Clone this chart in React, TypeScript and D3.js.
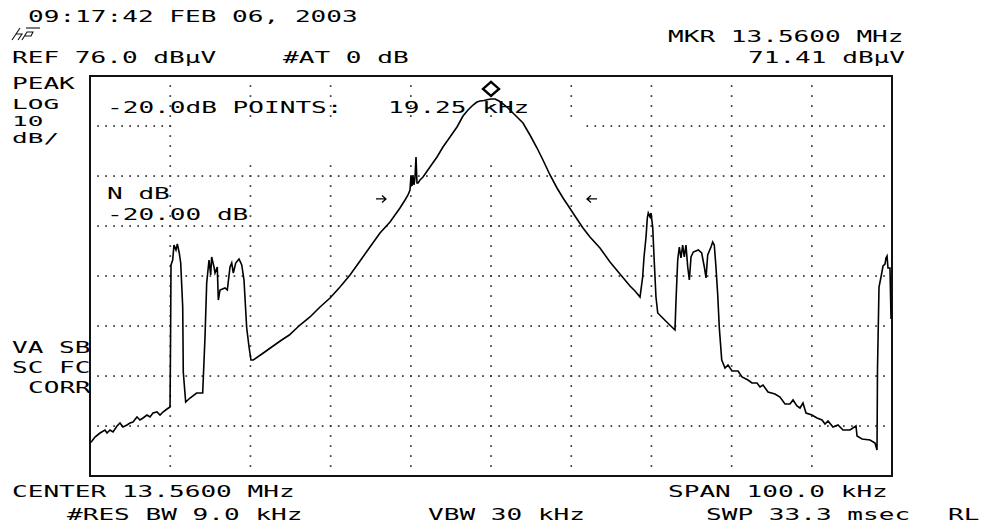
import React from "react";
import * as d3 from "d3";

// ---- instrument settings ----
const CENTER_MHZ = 13.56;
const SPAN_KHZ = 100;
const REF_DBUV = 76.0;
const DB_PER_DIV = 10;
const N_HDIV = 10;
const N_VDIV = 8;

const MARKER_KHZ = 50.0; // offset from start frequency
const MARKER_DBUV = 71.41;
const NDB = -20.0;
const NDB_WIDTH_KHZ = 19.25;
const NDB_ARROWS_KHZ = [36.28, 62.59];

// ---- trace: frequency offset from start (kHz) and level (dBuV) ----
const traceKHz = [
  0.0, 0.25, 0.62, 1.25, 1.87, 2.12, 2.49, 2.87, 3.37, 3.74, 4.11, 4.61, 4.99, 5.36, 5.86, 6.23, 6.61, 7.11, 7.48, 7.86, 8.35, 8.73, 9.1, 9.6, 9.98,
  10.04, 10.1, 10.31, 10.47, 10.72, 10.89, 11.13, 11.31, 11.56, 11.63, 11.93, 12.47, 13.3, 14.05, 14.34, 14.55, 14.84, 15.05, 15.17, 15.46, 15.59, 15.87, 16.0, 16.21, 16.83, 17.12, 17.46, 17.67, 17.87, 18.17, 18.58, 18.92, 19.2, 19.54, 19.83, 20.07, 20.36,
  21.61, 22.66, 23.9, 24.85, 26.18, 27.43, 28.68, 29.93, 31.17, 32.42, 33.67, 34.91, 36.16, 37.41, 38.65, 39.28, 39.65, 39.9, 40.02, 40.15, 40.27, 40.4, 40.52, 40.65, 40.77, 40.9, 41.15, 41.52, 42.39, 43.27, 44.01, 44.89, 45.76, 46.51, 47.13, 47.76, 48.25, 48.63, 49.13, 49.63, 50.0, 50.5, 51.0, 51.5, 52.12, 52.74, 53.37, 53.99, 54.86, 55.74, 56.48, 57.36, 58.23, 58.98, 59.48, 60.47, 61.47, 62.34, 63.59, 64.84, 66.08, 67.33, 67.96, 68.58,
  68.91, 69.08, 69.33, 69.49, 69.61, 69.83, 69.95, 70.16, 70.36, 70.57, 70.79, 71.91, 72.94, 73.07, 73.28, 73.48, 73.69, 73.9, 74.1, 74.31, 74.53, 74.73, 74.94, 75.22, 75.85, 76.27, 76.6, 76.81, 77.02, 77.43, 77.64, 77.84, 78.05, 78.27, 78.47, 78.77,
  79.18, 79.55, 80.05, 80.8, 81.3, 82.04, 82.54, 83.17, 83.54, 83.92, 84.54, 85.41, 86.03, 86.66, 87.28, 87.66, 88.15, 88.53, 88.9, 89.28, 90.02, 90.65, 91.27, 91.65, 92.02, 92.64, 93.27, 93.89, 94.76, 95.51, 95.64, 96.26, 97.26, 97.88, 98.13,
  98.19, 98.38, 98.63, 98.88, 99.13, 99.25, 99.38, 99.5, 99.75, 99.88,
];
const traceDbuV = [
  2.6, 3.0, 3.8, 4.6, 5.2, 4.6, 5.2, 4.8, 6.0, 6.6, 5.8, 6.2, 6.6, 6.8, 7.8, 7.2, 7.6, 8.2, 7.8, 8.6, 8.8, 8.2, 8.8, 9.4, 9.8,
  22.6, 38.2, 39.2, 42.2, 41.2, 42.4, 40.6, 38.6, 29.8, 16.8, 10.8, 11.6, 12.6, 12.6, 23.8, 34.6, 39.2, 36.2, 39.8, 37.8, 36.6, 37.8, 31.2, 33.2, 33.6, 33.2, 37.8, 38.6, 36.6, 38.6, 39.4, 38.2, 35.2, 25.6, 21.8, 19.2, 19.2,
  20.6, 21.8, 23.2, 24.2, 26.2, 27.8, 29.8, 31.6, 33.8, 36.2, 39.0, 41.8, 44.6, 46.8, 49.6, 51.2, 52.2, 53.2, 56.0, 54.0, 56.2, 54.2, 55.6, 59.8, 54.6, 54.6, 55.2, 55.8, 57.8, 59.8, 61.8, 63.8, 65.8, 68.0, 69.2, 70.2, 70.8, 71.0, 71.1, 71.3, 71.41, 71.4, 71.0, 70.4, 69.6, 68.6, 67.6, 66.6, 64.2, 61.6, 59.2, 56.2, 53.6, 51.6, 50.4, 48.0, 45.6, 43.8, 41.6, 38.8, 36.4, 34.0, 33.0, 31.8,
  35.8, 39.8, 43.8, 47.6, 48.6, 47.8, 48.6, 45.8, 38.8, 31.8, 28.6, 26.8, 25.2, 31.2, 39.2, 41.8, 39.6, 42.2, 39.8, 42.2, 37.8, 35.2, 39.8, 40.8, 41.2, 40.6, 37.8, 35.6, 40.2, 41.8, 42.8, 42.2, 37.8, 32.2, 25.6, 19.2,
  17.6, 18.2, 17.0, 17.0, 15.8, 15.2, 14.6, 14.6, 13.8, 14.2, 12.8, 12.4, 11.8, 10.4, 10.4, 11.2, 10.0, 9.6, 10.6, 8.6, 8.2, 7.6, 7.2, 6.4, 7.0, 5.8, 6.2, 5.2, 5.2, 6.0, 4.0, 3.4, 3.2, 2.6, 1.2,
  17.2, 33.8, 35.8, 38.0, 38.4, 39.6, 40.0, 37.6, 37.6, 27.4,
];

// ---- screen annotations ----
const headerDate = "09:17:42 FEB 06, 2003";
const leftLabels = ["PEAK", "LOG", "10", "dB/"];
const leftLower = ["VA SB", "SC FC", "CORR"];

const W = 1001;
const H = 525;
const PL = 90, PR = 892, PT = 76, PB = 476;
const ADV = 15.7;
const FONT = "'DejaVu Sans Mono', monospace";

function T({ x, y, s, size = 16.5 }: { x: number; y: number; s: string; size?: number }) {
  return (
    <text
      x={x}
      y={y}
      fontFamily={FONT}
      fontSize={size}
      textLength={s.length * ADV}
      lengthAdjust="spacingAndGlyphs"
      fill="#000"
    >
      {s}
    </text>
  );
}

export default function App() {
  const x = d3.scaleLinear().domain([0, SPAN_KHZ]).range([PL, PR]);
  const y = d3
    .scaleLinear()
    .domain([REF_DBUV - DB_PER_DIV * N_VDIV, REF_DBUV])
    .range([PB, PT]);

  const pts: [number, number][] = traceKHz.map((f, i) => [f, traceDbuV[i]]);
  const line = d3
    .line<[number, number]>()
    .x((d) => x(d[0]))
    .y((d) => y(d[1]));

  const vGrid = d3.range(1, N_HDIV).map((i) => x((SPAN_KHZ / N_HDIV) * i));
  const hGrid = d3
    .range(1, N_VDIV)
    .map((i) => y(REF_DBUV - DB_PER_DIV * i));
  const hDotXs = d3.range(1, 100).map((k) => PL + ((PR - PL) / 100) * k);
  const vDotYs = d3.range(1, 40).map((k) => PT + ((PB - PT) / 40) * k);

  const mx = x(MARKER_KHZ);
  const my = y(MARKER_DBUV);
  const ay = y(MARKER_DBUV + NDB);

  const startMHz = CENTER_MHZ - SPAN_KHZ / 2000;
  const a0 = x(NDB_ARROWS_KHZ[0]);
  const a1 = x(NDB_ARROWS_KHZ[1]);

  return (
    <svg
      width={W}
      height={H}
      style={{ position: "absolute", left: 0, top: 0, background: "#fff" }}
    >
      <rect x={0} y={0} width={W} height={H} fill="#fff" />
      {/* grid dots */}
      <g fill="#333">
        {hGrid.map((gy, i) =>
          hDotXs.map((gx, j) => (
            <rect key={`h${i}-${j}`} x={gx - 0.8} y={gy - 0.8} width={1.7} height={1.7} />
          ))
        )}
        {vGrid.map((gx, i) =>
          vDotYs.map((gy, j) => (
            <rect key={`v${i}-${j}`} x={gx - 0.8} y={gy - 0.8} width={1.7} height={1.7} />
          ))
        )}
      </g>
      {/* annotation blanking area */}
      <rect x={177} y={119} width={408} height={42} fill="#fff" />

      {/* frame */}
      <rect
        x={PL}
        y={PT}
        width={PR - PL}
        height={PB - PT}
        fill="none"
        stroke="#111"
        strokeWidth={2}
      />

      {/* trace */}
      <path d={line(pts) || ""} fill="none" stroke="#000" strokeWidth={1.6} strokeLinejoin="miter" />

      {/* marker diamond */}
      <polygon
        points={`${mx},${my - 17} ${mx + 8},${my - 10} ${mx},${my - 3} ${mx - 8},${my - 10}`}
        fill="#fff"
        stroke="#000"
        strokeWidth={2.4}
      />

      {/* N dB arrows */}
      <g stroke="#000" strokeWidth={1.3} fill="none">
        <path d={`M${a0 - 5},${ay} H${a0 + 5} M${a0 + 1},${ay - 3.5} L${a0 + 5},${ay} L${a0 + 1},${ay + 3.5}`} />
        <path d={`M${a1 + 5},${ay} H${a1 - 5} M${a1 - 1},${ay - 3.5} L${a1 - 5},${ay} L${a1 - 1},${ay + 3.5}`} />
      </g>

      {/* hp logo */}
      <g stroke="#111" strokeWidth={1.1} fill="none">
        <path d="M12,40 L20,28 M16,34 L22,34 L18,40 M22,40 L27,32 L33,32 L31,36 L25,36" />
        <path d="M26,28 H40" />
      </g>

      {/* header */}
      <T x={28} y={22} s={headerDate} />
      <T x={12} y={63} s={`REF ${REF_DBUV.toFixed(1)} dBμV`} />
      <T x={283} y={63} s="#AT 0 dB" />
      <T x={668} y={42} s={`MKR ${CENTER_MHZ.toFixed(4)} MHz`} />
      <T x={748} y={63} s={`${MARKER_DBUV.toFixed(2)} dBμV`} />

      {/* left labels */}
      <T x={12} y={89} s={leftLabels[0]} />
      <T x={12} y={109} s={leftLabels[1]} size={14.5} />
      <T x={12} y={126} s={leftLabels[2]} size={14.5} />
      <T x={12} y={143} s={leftLabels[3]} size={14.5} />
      <T x={12} y={353} s={leftLower[0]} />
      <T x={12} y={373} s={leftLower[1]} />
      <T x={28} y={393} s={leftLower[2]} />

      {/* in-graticule annotations */}
      <T x={107} y={113} s={`${NDB.toFixed(1)}dB POINTS:`} />
      <T x={388} y={113} s={`${NDB_WIDTH_KHZ.toFixed(2)} kHz`} />
      <T x={107} y={199} s="N dB" />
      <T x={107} y={220} s={`${NDB.toFixed(2)} dB`} />

      {/* footer */}
      <T x={12} y={497} s={`CENTER ${(startMHz + SPAN_KHZ / 2000).toFixed(4)} MHz`} />
      <T x={668} y={497} s={`SPAN ${SPAN_KHZ.toFixed(1)} kHz`} />
      <T x={67} y={520} s="#RES BW 9.0 kHz" />
      <T x={428} y={520} s="VBW 30 kHz" />
      <T x={706} y={520} s="SWP 33.3 msec" />
      <T x={948} y={520} s="RL" />
    </svg>
  );
}
